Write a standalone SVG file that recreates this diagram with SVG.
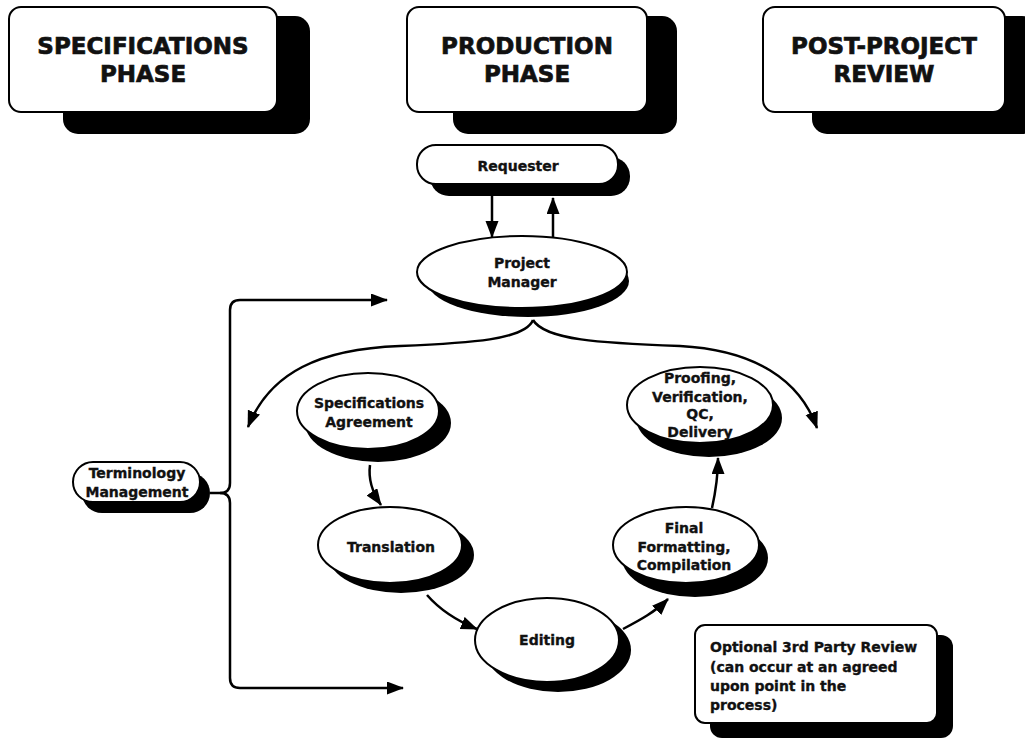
<svg xmlns="http://www.w3.org/2000/svg" width="1025" height="739" viewBox="0 0 1025 739">
<style>
.t{font-family:"DejaVu Sans","Verdana",sans-serif;font-weight:bold;fill:#111;stroke:#111;text-anchor:middle}
.h{font-size:23px;stroke-width:0.7px}
.s{font-size:14px;stroke-width:0.35px}
.w{fill:#fff;stroke:#000;stroke-width:2}
.k{fill:#000}
.c{fill:none;stroke:#000;stroke-width:2.5;marker-end:url(#ah)}
</style>
<defs>
<marker id="ah" markerUnits="userSpaceOnUse" markerWidth="17" markerHeight="14" refX="16" refY="6.5" orient="auto">
<path d="M0,0 L17,6.5 L0,13 z" fill="#000"/>
</marker>
</defs>
<rect width="1025" height="739" fill="#fff"/>
<g id="spec-phase">
<rect class="k" x="63" y="16" width="247" height="118" rx="15"/>
<rect class="w" x="9" y="7" width="268" height="105" rx="12"/>
<text class="t h" x="143" y="54">SPECIFICATIONS</text>
<text class="t h" x="143" y="82">PHASE</text>
</g>
<g id="production-phase">
<rect class="k" x="453" y="16" width="224" height="118" rx="15"/>
<rect class="w" x="407" y="7" width="240" height="105" rx="12"/>
<text class="t h" x="527" y="54">PRODUCTION</text>
<text class="t h" x="527" y="82">PHASE</text>
</g>
<g id="post-project">
<rect class="k" x="812" y="16" width="225" height="118" rx="15"/>
<rect class="w" x="763" y="7" width="242" height="105" rx="12"/>
<text class="t h" x="884" y="54">POST-PROJECT</text>
<text class="t h" x="884" y="82">REVIEW</text>
</g>
<g id="requester">
<rect class="k" x="430" y="157" width="200" height="39" rx="19"/>
<rect class="w" x="417" y="145" width="201" height="39" rx="19"/>
<text class="t s" x="518" y="171">Requester</text>
</g>
<g id="project-manager">
<ellipse class="k" cx="528" cy="281" rx="101" ry="36"/>
<ellipse class="w" cx="522" cy="272" rx="105" ry="36"/>
<text class="t s" x="522" y="268">Project</text>
<text class="t s" x="522" y="287">Manager</text>
</g>
<g id="terminology">
<rect class="k" x="82" y="473" width="128" height="40" rx="20"/>
<rect class="w" x="73" y="462" width="127" height="40" rx="20"/>
<text class="t s" x="137" y="478">Terminology</text>
<text class="t s" x="137" y="497">Management</text>
</g>
<g id="spec-agreement">
<ellipse class="k" cx="378" cy="423" rx="73" ry="39"/>
<ellipse class="w" cx="368" cy="411" rx="71" ry="38"/>
<text class="t s" x="369" y="408">Specifications</text>
<text class="t s" x="369" y="427">Agreement</text>
</g>
<g id="translation">
<ellipse class="k" cx="401" cy="555" rx="73" ry="38"/>
<ellipse class="w" cx="390" cy="545" rx="72" ry="38"/>
<text class="t s" x="391" y="552">Translation</text>
</g>
<g id="editing">
<ellipse class="k" cx="558" cy="650" rx="73" ry="42"/>
<ellipse class="w" cx="547" cy="640" rx="72" ry="42"/>
<text class="t s" x="547" y="645">Editing</text>
</g>
<g id="final-formatting">
<ellipse class="k" cx="695" cy="558" rx="73" ry="39"/>
<ellipse class="w" cx="686" cy="545" rx="73" ry="38"/>
<text class="t s" x="684" y="533">Final</text>
<text class="t s" x="684" y="552">Formatting,</text>
<text class="t s" x="684" y="570">Compilation</text>
</g>
<g id="proofing">
<ellipse class="k" cx="709" cy="418" rx="73" ry="39"/>
<ellipse class="w" cx="700" cy="405" rx="73" ry="38"/>
<text class="t s" x="700" y="383">Proofing,</text>
<text class="t s" x="700" y="402">Verification,</text>
<text class="t s" x="700" y="419">QC,</text>
<text class="t s" x="700" y="437">Delivery</text>
</g>
<g id="optional-review">
<rect class="k" x="710" y="635" width="243" height="103" rx="12"/>
<rect class="w" x="695" y="625" width="242" height="98" rx="10"/>
<text class="t s" style="text-anchor:start" x="710" y="652">Optional 3rd Party Review</text>
<text class="t s" style="text-anchor:start" x="710" y="672">(can occur at an agreed</text>
<text class="t s" style="text-anchor:start" x="710" y="691">upon point in the</text>
<text class="t s" style="text-anchor:start" x="710" y="710">process)</text>
</g>
<g id="connectors">
<path class="c" d="M492 196 L492 237"/>
<path class="c" d="M553 237 L553 198"/>
<path class="c" d="M533 320 C525 340 470 343 400 346 C320 349 270 372 248 427"/>
<path class="c" d="M533 320 C545 340 600 343 680 346 C755 350 800 380 817 428"/>
<path class="c" d="M210 493 L220 493 Q230 493 230 483 L230 310 Q230 300 240 300 L387 300"/>
<path class="c" d="M220 493 Q230 493 230 503 L230 678 Q230 688 240 688 L403 688"/>
<path class="c" d="M370 465 C368 480 372 492 381 505"/>
<path class="c" d="M427 595 C440 610 455 620 477 629"/>
<path class="c" d="M623 629 C640 620 655 612 668 599"/>
<path class="c" d="M712 508 C716 490 718 475 718 458"/>
</g>
</svg>
